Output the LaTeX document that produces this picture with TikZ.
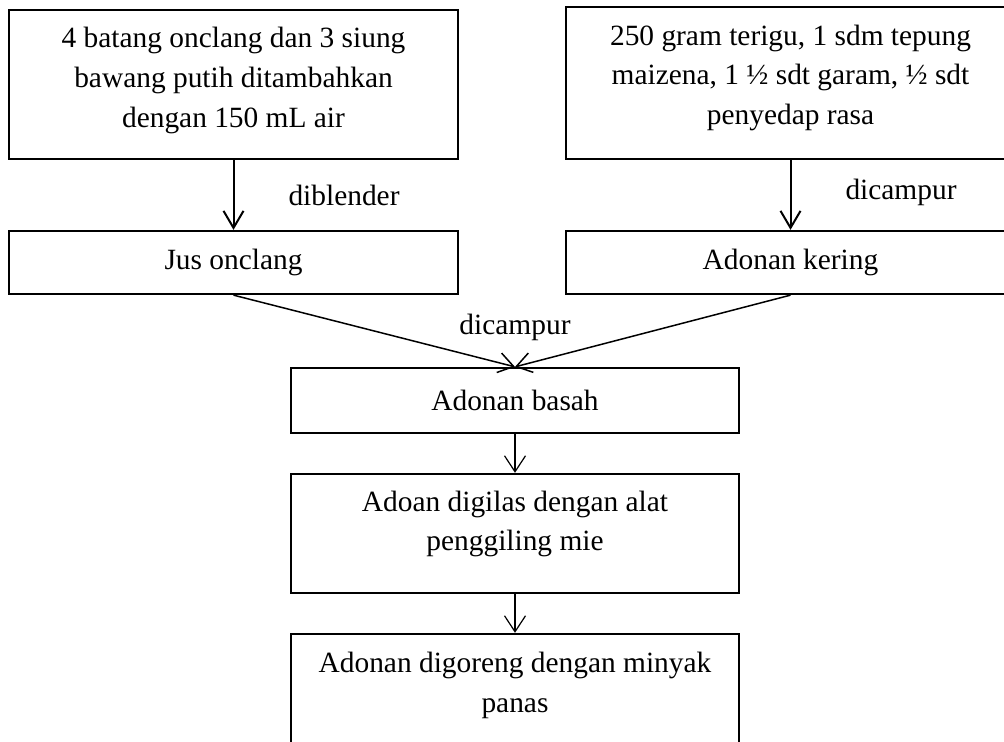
\documentclass[tikz,border=0pt]{standalone}
\usepackage{fontspec}
\setmainfont{Liberation Serif}
\usetikzlibrary{positioning,arrows.meta}

\begin{document}
\begin{tikzpicture}[x=0.5pt,y=-0.5pt,
  procbox/.style={draw,line width=1.15pt,align=center,inner sep=0pt,
    font=\fontsize{14.7}{19.8}\selectfont},
  note/.style={inner sep=0pt,font=\fontsize{14.7}{19.8}\selectfont},
  flowthick/.style={line width=1pt,-{Straight Barb[length=8.5pt,width=10pt]}},
  flowmid/.style={line width=0.75pt,-{Straight Barb[length=7.5pt,width=10pt]}},
  flowthin/.style={line width=0.6pt,-{Straight Barb[length=8pt,width=10.5pt]}}]
  \path[use as bounding box,clip] (0,0) rectangle (1004,742);

  % bahan
  \node[procbox,minimum width=224.5pt,minimum height=74.5pt,text depth=7.2pt] (onclang) at (233.5,84.5)
    {4 batang onclang dan 3 siung\\bawang putih ditambahkan\\dengan 150 mL air};
  \node[procbox,minimum width=224.5pt,minimum height=76pt,text depth=8.2pt] (tepung) at (790.5,83)
    {250 gram terigu, 1 sdm tepung\\maizena, 1 ½ sdt garam, ½ sdt\\penyedap rasa};
  \node[procbox,minimum width=224.5pt,minimum height=31.5pt] (jus) at (233.5,262.5) {Jus onclang};
  \node[procbox,minimum width=224.5pt,minimum height=31.5pt] (kering) at (790.5,262.5) {Adonan kering};

  % proses
  \node[procbox,minimum width=224pt,minimum height=32.5pt] (basah) at (515,400.5) {Adonan basah};
  \node[procbox,minimum width=224pt,minimum height=59.5pt,text depth=12.7pt] (giling) at (515,533.5)
    {Adoan digilas dengan alat\\penggiling mie};
  \node[procbox,minimum width=224pt,minimum height=59.5pt,text depth=11.2pt] (goreng) at (515,693.5)
    {Adonan digoreng dengan minyak\\panas};

  \draw[flowthick] (onclang) -- node[note,right=27pt] {diblender} (jus);
  \draw[flowthick] (tepung) -- node[note,right=27pt,yshift=1.5pt] {dicampur} (kering);
  \draw[flowmid] (jus.south) -- (basah.north);
  \draw[flowmid] (kering.south) -- (basah.north);
  \node[note,above=13pt of basah] (campur) {dicampur};
  \draw[flowthin] (basah) -- (giling);
  \draw[flowthin] (giling) -- (goreng);
\end{tikzpicture}
\end{document}
